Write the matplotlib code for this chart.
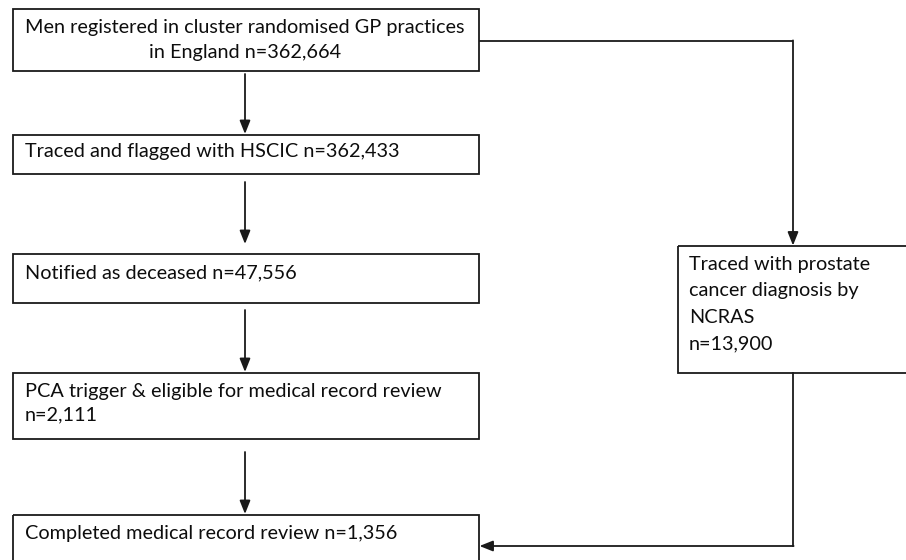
import matplotlib
matplotlib.use("Agg")
import matplotlib.pyplot as plt
from matplotlib.patches import Rectangle

# ---- content ----
main_labels = [
    "Men registered in cluster randomised GP practices\nin England n=362,664",
    "Traced and flagged with HSCIC n=362,433",
    "Notified as deceased n=47,556",
    "PCA trigger & eligible for medical record review\nn=2,111",
    "Completed medical record review n=1,356",
]
side_label = "Traced with prostate\ncancer diagnosis by\nNCRAS\nn=13,900"

# ---- layout (pixels) ----
W, H = 906, 560
main_x0, main_x1 = 12.5, 479
main_boxes_y = [(9, 71), (135, 174), (254, 303), (373, 439), (515, 575)]
side_box = (678, 246, 930, 373)  # x0, y0, x1, y1
col = "#1a1a1a"
tcol = "#0d0d0d"
lw = 1.3
FONT = "Lato"
fs = 14.3

fig = plt.figure(figsize=(W / 100, H / 100), dpi=100)
ax = fig.add_axes([0, 0, 1, 1])
ax.set_xlim(0, W)
ax.set_ylim(H, 0)
ax.axis("off")

def box(x0, y0, x1, y1):
    ax.add_patch(Rectangle((x0, y0), x1 - x0, y1 - y0, fill=False,
                           edgecolor=col, linewidth=lw, clip_on=True))

def arrow(xy_from, xy_to):
    ax.annotate("", xy=xy_to, xytext=xy_from,
                arrowprops=dict(arrowstyle="-|>,head_length=0.8,head_width=0.32",
                                color=col, lw=lw, shrinkA=0, shrinkB=0))

for (y0, y1) in main_boxes_y:
    box(main_x0, y0, main_x1, y1)
box(*side_box)

tk = dict(fontsize=fs, family=FONT, color=tcol, va="center")
ax.text(245, 40, main_labels[0], ha="center", linespacing=1.55, **tk)
ax.text(25, 152, main_labels[1], ha="left", **tk)
ax.text(25, 273, main_labels[2], ha="left", **tk)
ax.text(25, 403, main_labels[3], ha="left", linespacing=1.5, **tk)
ax.text(25, 533, main_labels[4], ha="left", **tk)
ax.text(689, 304, side_label, ha="left", linespacing=1.68, **tk)

# vertical arrows between main boxes
ax_x = 245
arrow((ax_x, 74), (ax_x, 134))
arrow((ax_x, 182), (ax_x, 244))
arrow((ax_x, 310), (ax_x, 372))
arrow((ax_x, 452), (ax_x, 514))

# right branch
ax.plot([main_x1, 793], [41, 41], color=col, lw=lw, solid_capstyle="butt")
arrow((793, 40.4), (793, 245.5))
ax.plot([793, 793], [373, 546], color=col, lw=lw, solid_joinstyle="miter")
arrow((793.6, 546), (main_x1 + 0.5, 546))

fig.savefig("out.png", dpi=100, facecolor="white")
